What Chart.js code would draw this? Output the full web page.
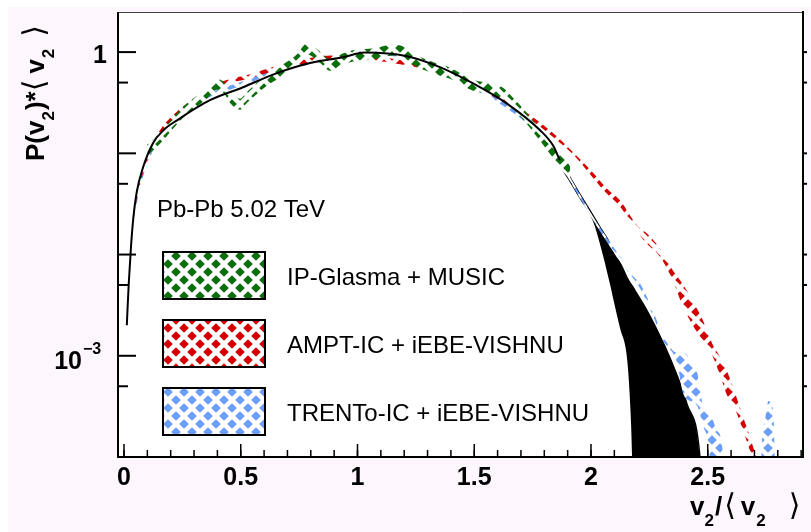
<!DOCTYPE html>
<html>
<head>
<meta charset="utf-8">
<script src="https://cdn.jsdelivr.net/npm/chart.js@4.4.1/dist/chart.umd.min.js"></script>
<style>
  html, body { margin: 0; padding: 0; background: #fff; }
  #c { display: block; }
</style>
</head>
<body>
<canvas id="c" width="811" height="532"></canvas>
<script>
// ------------------------------------------------------------
// data (x = v2/<v2>, y = P(v2)*<v2>)
// ------------------------------------------------------------

// black curve (thin part)
const blackLineX = [0.012, 0.020, 0.030, 0.040, 0.055, 0.081, 0.124, 0.170, 0.227, 0.368, 0.510, 0.655, 0.797, 0.938, 1.030, 1.212, 1.353, 1.495, 1.640, 1.782, 1.837, 1.867];
const blackLineY = [0.0020, 0.0050, 0.0120, 0.0230, 0.042, 0.072, 0.126, 0.170, 0.212, 0.335, 0.45, 0.62, 0.78, 0.89, 0.99, 0.91, 0.71, 0.49, 0.31, 0.169, 0.120, 0.0853];

// black filled band (tail)
const blackBandX  = [1.850, 1.867, 1.910, 1.953, 2.009, 2.039, 2.081, 2.100, 2.124, 2.154, 2.166, 2.176, 2.190, 2.240, 2.338, 2.411, 2.467, 2.490];
const blackBandHi = [0.104, 0.0853, 0.058, 0.0393, 0.0243, 0.0185, 0.01285, 0.0100, 0.00834, 0.00592, 0.0053, 0.00493, 0.00435, 0.00279, 0.000955, 0.000335, 0.000098, 0.00001];
const blackBandLo = [0.098, 0.0761, 0.0516, 0.0351, 0.0212, 0.0126, 0.00516, 0.00327, 0.00189, 0.000955, 0.00040, 0.000098, 1e-6, 1e-6, 1e-6, 1e-6, 1e-6, 1e-6];

// IP-Glasma + MUSIC
const glasmaX  = [0.099, 0.154, 0.210, 0.253, 0.296, 0.355, 0.398, 0.430, 0.454, 0.497, 0.527, 0.570, 0.612, 0.680, 0.740, 0.784, 0.839, 0.882, 0.925, 0.998, 1.066, 1.152, 1.195, 1.238, 1.340, 1.396, 1.495, 1.555, 1.623, 1.666, 1.710, 1.782, 1.837, 1.880, 1.910];
const glasmaHi = [0.1215, 0.1598, 0.2248, 0.2888, 0.3467, 0.4453, 0.5468, 0.4992, 0.4064, 0.3467, 0.4064, 0.4992, 0.5989, 0.7522, 0.9450, 1.215, 1.012, 0.8431, 0.9450, 1.059, 1.083, 1.187, 1.134, 0.9667, 0.7696, 0.7025, 0.5345, 0.4992, 0.4453, 0.3545, 0.2758, 0.1709, 0.1160, 0.0955, 0.0745];
const glasmaLo = [0.0944, 0.1242, 0.1748, 0.2246, 0.2696, 0.3463, 0.4252, 0.3882, 0.3160, 0.2696, 0.3160, 0.3882, 0.4657, 0.5849, 0.7348, 0.9444, 0.7869, 0.6556, 0.7348, 0.8235, 0.8425, 0.9232, 0.8818, 0.7517, 0.5985, 0.5463, 0.4156, 0.3882, 0.3463, 0.2756, 0.2145, 0.1329, 0.0902, 0.0663, 0.0563];

// AMPT-IC + iEBE-VISHNU
const amptX  = [0.039, 0.069, 0.099, 0.154, 0.210, 0.283, 0.355, 0.424, 0.540, 0.638, 0.741, 0.852, 0.998, 1.066, 1.182, 1.268, 1.396, 1.537, 1.597, 1.696, 1.769, 1.854, 1.923, 2.009, 2.069, 2.124, 2.197, 2.240, 2.295, 2.351, 2.394, 2.437, 2.480, 2.522, 2.552, 2.587, 2.617, 2.647, 2.681, 2.707];
const amptHi = [0.0254, 0.0540, 0.0933, 0.1690, 0.2377, 0.3273, 0.4207, 0.5164, 0.6053, 0.7106, 0.8149, 0.9134, 0.9343, 0.9134, 0.8336, 0.7604, 0.6053, 0.4405, 0.3839, 0.2792, 0.2122, 0.1475, 0.1071, 0.0642, 0.0446, 0.0343, 0.0194, 0.0161, 0.0115, 0.00694, 0.00505, 0.00343, 0.00222, 0.00128, 0.000977, 0.000664, 0.000430, 0.000266, 0.000158, 0.000102];
const amptLo = [0.0232, 0.0493, 0.0851, 0.1541, 0.2168, 0.2985, 0.3837, 0.4710, 0.5521, 0.6482, 0.7433, 0.8331, 0.8522, 0.8331, 0.7604, 0.6936, 0.5521, 0.4018, 0.3502, 0.2547, 0.1936, 0.1346, 0.0977, 0.0572, 0.0398, 0.0299, 0.0169, 0.0128, 0.00959, 0.00552, 0.00306, 0.00198, 0.00141, 0.000976, 0.000648, 0.000384, 0.000298, 0.000194, 0.000115, 0.0000744];

// TRENTo-IC + iEBE-VISHNU
const trentoX  = [0.039, 0.069, 0.099, 0.154, 0.210, 0.283, 0.355, 0.497, 0.638, 0.797, 0.938, 1.066, 1.212, 1.353, 1.495, 1.640, 1.782, 1.867, 1.953, 2.039, 2.124, 2.210, 2.266, 2.308, 2.368, 2.394, 2.424, 2.455, 2.480, 2.510, 2.540, 2.565, 2.580, 2.720, 2.730, 2.745, 2.760, 2.775, 2.785, 2.795];
const trentoHi = [0.0227, 0.0505, 0.0853, 0.1542, 0.2173, 0.3056, 0.3839, 0.5049, 0.6637, 0.8336, 0.9557, 1.0234, 0.9557, 0.7275, 0.4824, 0.3056, 0.1614, 0.0853, 0.0393, 0.0185, 0.00966, 0.00522, 0.00276, 0.00160, 0.00107, 0.00107, 0.000934, 0.000679, 0.000320, 0.000273, 0.000181, 0.000110, 1e-6, 1e-6, 0.000102, 0.000227, 0.000358, 0.000320, 0.000144, 1e-6];
const trentoLo = [0.0207, 0.0460, 0.0778, 0.1407, 0.1982, 0.2788, 0.3502, 0.4605, 0.6054, 0.7604, 0.8717, 0.9335, 0.8717, 0.6635, 0.4400, 0.2788, 0.1473, 0.0778, 0.0358, 0.0169, 0.00861, 0.00465, 0.00246, 0.00143, 0.000853, 0.000430, 0.000358, 0.000320, 0.000203, 0.0000912, 1e-6, 1e-6, 1e-6, 1e-6, 1e-6, 1e-6, 1e-6, 1e-6, 1e-6, 1e-6];

// axes
const xMajorTicks  = [0, 0.5, 1, 1.5, 2, 2.5];
const xTickLabels  = ['0', '0.5', '1', '1.5', '2', '2.5'];
const xMinorTicks  = Array.from({ length: 30 }, (_, i) => i / 10);
const yMajorTicks  = [1, 0.1, 0.01, 0.001];
const yMinorTicks  = [0.5, 0.05, 0.005, 0.0005];

const legendLabels = ['IP-Glasma + MUSIC', 'AMPT-IC + iEBE-VISHNU', 'TRENTo-IC + iEBE-VISHNU'];
const GREEN = '#0b6e0b', RED = '#d40000', BLUE = '#6a9ef8';
const FONT = "'Liberation Sans', Arial, Helvetica, sans-serif";

// ------------------------------------------------------------
const canvas = document.getElementById('c');
const ctx0 = canvas.getContext('2d');

// ROOT-like cross hatch: coloured diamonds on white
function hatch(color) {
  const t = document.createElement('canvas');
  t.width = t.height = 16;
  const g = t.getContext('2d');
  g.fillStyle = '#fff';
  g.fillRect(0, 0, 16, 16);
  g.fillStyle = color;
  const r = 4.8;
  [[0, 0], [16, 0], [0, 16], [16, 16], [8, 8]].forEach(([cx, cy]) => {
    g.beginPath();
    g.moveTo(cx, cy - r); g.lineTo(cx + r, cy); g.lineTo(cx, cy + r); g.lineTo(cx - r, cy);
    g.closePath();
    g.fill();
  });
  return ctx0.createPattern(t, 'repeat');
}
const patterns = [hatch(GREEN), hatch(RED), hatch(BLUE)];

const pts = (xs, ys) => xs.map((x, i) => ({ x, y: ys[i] }));

function band(xs, hi, lo, fillStyle) {
  return [
    { data: pts(xs, hi), fill: '+1', backgroundColor: fillStyle, borderColor: 'rgba(0,0,0,0)', borderWidth: 1 },
    { data: pts(xs, lo), fill: false, borderColor: 'rgba(0,0,0,0)', borderWidth: 1 },
  ];
}

// datasets: first one is drawn on top
const datasets = [
  { data: pts(blackLineX, blackLineY), fill: false, borderColor: '#000', borderWidth: 2 },
  ...band(glasmaX, glasmaHi, glasmaLo, patterns[0]),
  ...band(amptX, amptHi, amptLo, patterns[1]),
  ...band(trentoX, trentoHi, trentoLo, patterns[2]),
  { data: pts(blackBandX, blackBandHi), fill: '+1', backgroundColor: '#000', borderColor: '#000', borderWidth: 1.5 },
  { data: pts(blackBandX, blackBandLo), fill: false, borderColor: 'rgba(0,0,0,0)', borderWidth: 1 },
];

// ------------------------------------------------------------
// frame, ticks, labels, legend (ROOT look)
// ------------------------------------------------------------
function drawParts(ctx, parts, x, y) {
  parts.forEach(p => {
    ctx.font = p.font;
    ctx.fillText(p.t, x, y + (p.dy || 0));
    x += ctx.measureText(p.t).width + (p.gap || 0);
  });
}

const rootFrame = {
  id: 'rootFrame',
  beforeDraw(chart) {
    const { ctx, chartArea: a, width, height } = chart;
    ctx.save();
    ctx.fillStyle = '#fff';
    ctx.fillRect(0, 0, width, height);
    ctx.fillStyle = '#fdf7fd';
    ctx.fillRect(8, 7, width - 8, height - 7);
    ctx.fillStyle = '#fff';
    ctx.fillRect(a.left, a.top, a.right - a.left, a.bottom - a.top);
    ctx.restore();
  },
  afterDraw(chart) {
    const { ctx, chartArea: a } = chart;
    const xs = chart.scales.x, ys = chart.scales.y;
    ctx.save();

    // frame
    ctx.strokeStyle = '#444';
    ctx.lineWidth = 1;
    ctx.beginPath(); ctx.moveTo(a.left, a.top + 0.5); ctx.lineTo(a.right, a.top + 0.5); ctx.stroke();
    ctx.strokeStyle = '#000';
    ctx.lineWidth = 2;
    ctx.beginPath();
    ctx.moveTo(a.left, a.top); ctx.lineTo(a.left, a.bottom); ctx.lineTo(a.right, a.bottom); ctx.lineTo(a.right, a.top - 1);
    ctx.stroke();

    // y ticks
    const yTick = (v, len) => {
      const y = ys.getPixelForValue(v);
      ctx.beginPath(); ctx.moveTo(a.left, y); ctx.lineTo(a.left + len, y); ctx.stroke();
      ctx.beginPath(); ctx.moveTo(a.right, y); ctx.lineTo(a.right + 4, y); ctx.stroke();
    };
    yMajorTicks.forEach(v => yTick(v, 18));
    yMinorTicks.forEach(v => yTick(v, 10));

    // x ticks
    ctx.lineWidth = 1.5;
    xMinorTicks.forEach(v => {
      const x = xs.getPixelForValue(v);
      ctx.beginPath(); ctx.moveTo(x, a.bottom); ctx.lineTo(x, a.bottom - 7); ctx.stroke();
    });
    xMajorTicks.forEach(v => {
      const x = xs.getPixelForValue(v);
      ctx.beginPath(); ctx.moveTo(x, a.bottom); ctx.lineTo(x, a.bottom - 13); ctx.stroke();
    });

    // tick labels
    ctx.fillStyle = '#000';
    ctx.font = 'bold 25px ' + FONT;
    ctx.textAlign = 'center';
    ctx.textBaseline = 'alphabetic';
    xMajorTicks.forEach((v, i) => ctx.fillText(xTickLabels[i], xs.getPixelForValue(v), 485));

    ctx.textAlign = 'right';
    ctx.fillText('1', 107, ys.getPixelForValue(1) + 11);
    const y3 = ys.getPixelForValue(0.001);
    ctx.fillText('10', 82, y3 + 13);
    ctx.textAlign = 'left';
    ctx.font = 'bold 16px ' + FONT;
    ctx.fillText('\u22123', 83, y3 - 2);

    // axis titles
    const B = 'bold 26px ' + FONT, S = 'bold 17px ' + FONT, BR = '30px DejaVu Sans';
    ctx.textAlign = 'left';
    drawParts(ctx, [
      { t: 'v', font: B }, { t: '2', font: S, dy: 11, gap: 1 }, { t: '/', font: B, gap: 2 },
      { t: '\u27E8', font: BR, gap: 5 }, { t: 'v', font: B, gap: 1 }, { t: '2', font: S, dy: 11, gap: 23 },
      { t: '\u27E9', font: BR },
    ], 690, 515);

    ctx.save();
    ctx.translate(44, 161);
    ctx.rotate(-Math.PI / 2);
    drawParts(ctx, [
      { t: 'P(v', font: B }, { t: '2', font: S, dy: 10, gap: 1 }, { t: ')*', font: B },
      { t: '\u27E8', font: BR, gap: 6 }, { t: 'v', font: B, gap: 1 }, { t: '2', font: S, dy: 10, gap: 12 },
      { t: '\u27E9', font: BR },
    ], 0, 0);
    ctx.restore();

    // text + legend
    ctx.font = '24px ' + FONT;
    ctx.fillText('Pb-Pb 5.02 TeV', 157, 217);
    const boxY = [252, 320, 388];
    legendLabels.forEach((lab, i) => {
      ctx.fillStyle = patterns[i];
      ctx.fillRect(163, boxY[i], 102, 47);
      ctx.strokeStyle = '#000';
      ctx.lineWidth = 2;
      ctx.strokeRect(163, boxY[i], 102, 47);
      ctx.fillStyle = '#000';
      ctx.font = '24px ' + FONT;
      ctx.fillText(lab, 287, boxY[i] + 33);
    });

    ctx.restore();
  },
};

new Chart(canvas, {
  type: 'line',
  data: { datasets },
  options: {
    responsive: false,
    animation: false,
    devicePixelRatio: 1,
    layout: { padding: { left: 118, top: 12, right: 8, bottom: 75 } },
    elements: {
      point: { radius: 0, hoverRadius: 0 },
      line: { cubicInterpolationMode: 'monotone' },
    },
    scales: {
      x: { type: 'linear', min: -0.0257, max: 2.908, display: false },
      y: { type: 'logarithmic', min: 1e-4, max: 2.49, display: false },
    },
    plugins: {
      legend: { display: false },
      tooltip: { enabled: false },
    },
  },
  plugins: [rootFrame],
});
</script>
</body>
</html>
